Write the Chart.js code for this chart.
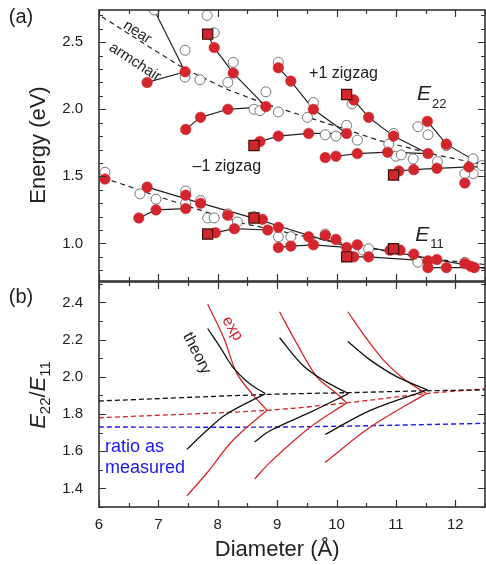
<!DOCTYPE html>
<html>
<head>
<meta charset="utf-8">
<script src="https://cdn.jsdelivr.net/npm/chart.js@4.4.0/dist/chart.umd.min.js"></script>
<style>
  html, body { margin: 0; padding: 0; background: #fff; }
  #wrap { position: relative; width: 486px; height: 565px; overflow: hidden; }
  #wrap canvas { position: absolute; left: 0; }
  #topCanvas { top: 0; }
  #botCanvas { top: 276px; }
</style>
</head>
<body>
<div id="wrap">
  <canvas id="topCanvas" width="486" height="290" style="width:486px;height:290px"></canvas>
  <canvas id="botCanvas" width="486" height="289" style="width:486px;height:289px"></canvas>
</div>
<script>
// ---- panel (a): transition energies vs diameter, [diameter (Å), energy (eV)] ----
const measuredE22 = [
  [6.81,2.20],[7.45,2.28],[7.94,2.46],[8.26,2.27],[8.81,2.02],[7.46,1.85],[7.71,1.94],
  [8.17,2.00],[8.71,1.76],[9.02,1.80],[9.02,2.31],[9.23,2.21],[9.61,2.00],[9.53,1.82],
  [10.17,1.82],[10.29,2.07],[10.54,1.94],[10.96,1.80],[9.81,1.64],[9.99,1.65],[10.35,1.67],
  [10.86,1.68],[11.53,1.91],[11.85,1.74],[11.54,1.67],[12.23,1.57],[11.05,1.54],[11.30,1.55],
  [11.69,1.56],[12.16,1.45]
];
const measuredE11 = [
  [6.10,1.48],[6.81,1.42],[6.67,1.19],[6.96,1.25],[7.46,1.26],[7.46,1.36],[7.71,1.30],
  [8.17,1.21],[8.28,1.11],[7.96,1.08],[8.75,1.18],[8.84,1.10],[9.02,1.12],[9.02,0.97],
  [9.23,0.98],[9.53,1.05],[9.61,0.99],[9.81,1.06],[9.99,1.03],[10.17,0.97],[10.35,0.99],
  [10.29,0.90],[10.54,0.90],[10.90,0.95],[11.07,0.95],[11.30,0.92],[11.54,0.87],[11.54,0.82],
  [11.69,0.88],[11.85,0.82],[12.16,0.85],[12.26,0.83],[12.32,0.82]
];
const zigzagE22 = [[7.83,2.56],[8.61,1.73],[10.17,2.11],[10.96,1.51]];
const zigzagE11 = [[7.83,1.07],[8.61,1.19],[10.17,0.90],[10.96,0.96]];
const calcE22 = [
  [6.93,2.74],[7.45,2.44],[7.45,2.24],[7.70,2.22],[7.82,2.70],[7.94,2.57],[8.26,2.35],
  [8.17,2.20],[8.81,2.13],[8.61,2.00],[8.71,1.99],[9.02,1.98],[9.02,2.35],[9.61,2.05],
  [9.51,1.94],[10.17,1.88],[10.26,2.04],[10.96,1.82],[10.88,1.74],[10.35,1.77],[9.81,1.81],
  [9.99,1.80],[11.37,1.87],[11.54,1.81],[11.85,1.73],[11.00,1.65],[11.09,1.66],[11.29,1.63],
  [11.70,1.61],[12.30,1.63],[12.30,1.52],[12.16,1.52],[12.45,1.58]
];
const calcE11 = [
  [6.10,1.53],[6.69,1.37],[6.96,1.33],[7.46,1.39],[7.46,1.30],[7.71,1.32],[7.83,1.19],
  [7.94,1.19],[8.17,1.22],[8.33,1.16],[8.61,1.20],[9.02,1.05],[9.23,1.05],[9.81,1.07],
  [10.45,0.95],[10.54,0.96],[11.37,0.86],[12.16,0.86]
];
const familyE22 = [
  [[6.93,2.74],[7.45,2.28]],
  [[6.81,2.20],[7.45,2.28]],
  [[7.83,2.56],[7.94,2.46],[8.26,2.27],[8.81,2.02]],
  [[7.46,1.85],[7.71,1.94],[8.17,2.00],[8.81,2.02]],
  [[9.02,2.31],[9.23,2.21],[9.61,2.00],[10.17,1.82]],
  [[8.61,1.73],[8.71,1.76],[9.02,1.80],[9.53,1.82],[10.17,1.82]],
  [[10.17,2.11],[10.29,2.07],[10.54,1.94],[10.96,1.80],[11.54,1.67]],
  [[9.81,1.64],[9.99,1.65],[10.35,1.67],[10.86,1.68],[11.54,1.67]],
  [[11.53,1.91],[11.85,1.74],[12.55,1.56]],
  [[10.96,1.51],[11.05,1.54],[11.30,1.55],[11.69,1.56],[12.23,1.57],[12.55,1.57]]
];
const familyE11 = [
  [[6.67,1.19],[6.96,1.25],[7.46,1.26]],
  [[6.81,1.42],[7.71,1.30],[8.75,1.17],[9.02,1.13],[9.53,1.06],[10.17,0.98],[10.67,0.96],[12.55,0.81]],
  [[7.83,1.07],[7.96,1.08],[8.28,1.11],[8.84,1.10]],
  [[9.02,0.97],[9.23,0.98],[9.61,0.99],[10.17,0.97]],
  [[10.17,0.90],[10.29,0.90],[10.54,0.90],[11.54,0.87]],
  [[11.54,0.82],[11.85,0.82],[12.55,0.82]]
];
const armchairE22 = [[6.05,2.69],[6.97,2.43],[7.45,2.30],[8.15,2.15],[8.80,2.04],[10.09,1.86],[10.70,1.77],[11.68,1.66],[12.55,1.58]];
const armchairE11 = [[6.07,1.49],[6.93,1.36],[7.69,1.25],[8.42,1.15],[9.50,1.05],[10.50,0.97],[11.50,0.89],[12.55,0.84]];

// ---- panel (b): E22/E11 ratio vs diameter ----
const theoryUpper = [
  [[7.83,2.26],[8.04,2.16],[8.26,2.05],[8.55,1.96],[8.80,1.91]],
  [[9.04,2.21],[9.44,2.06],[9.84,1.97],[10.20,1.91]],
  [[10.19,2.19],[10.57,2.09],[11.02,2.00],[11.53,1.93]]
];
const theoryLower = [
  [[8.80,1.91],[8.15,1.80],[7.81,1.71],[7.48,1.61]],
  [[10.20,1.91],[9.56,1.81],[8.88,1.71],[8.62,1.65]],
  [[11.53,1.93],[10.57,1.82],[9.81,1.69]]
];
const expUpper = [
  [[7.83,2.39],[8.10,2.21],[8.32,2.02],[8.60,1.90],[8.83,1.82]],
  [[9.04,2.35],[9.33,2.18],[9.67,2.00],[10.00,1.91],[10.17,1.86]],
  [[10.19,2.35],[10.45,2.23],[10.79,2.09],[11.13,1.99],[11.51,1.91]]
];
const expLower = [
  [[8.83,1.82],[8.26,1.66],[7.81,1.48],[7.48,1.36]],
  [[10.17,1.86],[9.56,1.73],[8.88,1.54],[8.62,1.45]],
  [[11.51,1.91],[10.57,1.73],[9.81,1.54]]
];
const theoryArmchair = [[6.0,1.87],[8.80,1.905],[10.20,1.915],[11.53,1.925],[12.5,1.93]];
const expArmchair = [[6.0,1.78],[8.83,1.82],[10.17,1.86],[11.51,1.91],[12.5,1.935]];
const measuredRatio = [[6.0,1.73],[9.0,1.73],[11.0,1.74],[12.5,1.75]];

const FONT = '"Liberation Sans", Arial, Helvetica, sans-serif';
const RED = '#d3262c';
const BLUE = '#1a1af0';
const INK = '#222';

const pts = arr => arr.map(([x, y]) => ({ x, y }));

function lineSet(arr, color, dash, width, tension) {
  return {
    data: pts(arr), showLine: true, borderColor: color, borderWidth: width || 1.2,
    borderDash: dash || [], pointRadius: 0, tension: tension || 0, fill: false
  };
}

function text(ctx, str, x, y, font, opts) {
  opts = opts || {};
  ctx.save();
  ctx.font = font;
  ctx.fillStyle = opts.color || INK;
  ctx.textAlign = opts.align || 'center';
  ctx.textBaseline = opts.baseline || 'middle';
  ctx.translate(x, y);
  if (opts.rot) ctx.rotate(opts.rot * Math.PI / 180);
  ctx.fillText(str, 0, 0);
  ctx.restore();
}

// inward tick marks on all four sides plus the frame
function drawFrame(chart, minorStep, majorEvery) {
  const { ctx, chartArea: a, scales: { x, y } } = chart;
  ctx.save();
  ctx.strokeStyle = '#333';
  ctx.lineWidth = 1.2;
  ctx.beginPath();
  for (let k = 12; k <= 25; k++) {
    const px = Math.round(x.getPixelForValue(k / 2)) + 0.5;
    const len = k % 2 === 0 ? 7 : 4;
    ctx.moveTo(px, a.bottom); ctx.lineTo(px, a.bottom - len);
    ctx.moveTo(px, a.top); ctx.lineTo(px, a.top + len);
  }
  const k0 = Math.ceil(y.min / minorStep - 1e-6);
  const k1 = Math.floor(y.max / minorStep + 1e-6);
  for (let k = k0; k <= k1; k++) {
    const py = Math.round(y.getPixelForValue(k * minorStep)) + 0.5;
    const len = k % majorEvery === 0 ? 7 : 4;
    ctx.moveTo(a.left, py); ctx.lineTo(a.left + len, py);
    ctx.moveTo(a.right, py); ctx.lineTo(a.right - len, py);
  }
  ctx.stroke();
  ctx.lineWidth = 1.6;
  ctx.strokeRect(a.left, a.top, a.right - a.left, a.bottom - a.top);
  ctx.restore();
}

function subLabel(ctx, x, y, main, sub, size, subSize, drop) {
  ctx.save();
  ctx.fillStyle = INK;
  ctx.textAlign = 'left';
  ctx.textBaseline = 'alphabetic';
  ctx.font = 'italic ' + size + 'px ' + FONT;
  ctx.fillText(main, x, y);
  const w = ctx.measureText(main).width;
  ctx.font = subSize + 'px ' + FONT;
  ctx.fillText(sub, x + w + 1, y + drop);
  ctx.restore();
}

// keep the axes from reserving room for overhanging tick labels
function fixBox(w, h) {
  return s => {
    if (w !== null) s.width = w;
    if (h !== null) s.height = h;
    s.paddingTop = 0; s.paddingBottom = 0; s.paddingLeft = 0; s.paddingRight = 0;
  };
}

const tickFont = { family: FONT, size: 15 };
const noGrid = { display: false, drawTicks: false };

// ---------- top chart (a) ----------
const topSets = [];
topSets.push({ data: pts(zigzagE22.concat(zigzagE11)), pointStyle: 'rect', pointRadius: 7.2,
  pointBackgroundColor: RED, pointBorderColor: '#3b1010', pointBorderWidth: 1.2, showLine: false });
topSets.push({ data: pts(measuredE22.concat(measuredE11)), pointRadius: 5.3,
  pointBackgroundColor: RED, pointBorderColor: RED, pointBorderWidth: 0.5, showLine: false });
topSets.push({ data: pts(calcE22.concat(calcE11)), pointRadius: 5,
  pointBackgroundColor: '#fff', pointBorderColor: '#555', pointBorderWidth: 0.8, showLine: false });
familyE22.concat(familyE11).forEach(f => topSets.push(lineSet(f, INK, null, 1.2)));
topSets.push(lineSet(armchairE22, INK, [5, 4], 1.2));
topSets.push(lineSet(armchairE11, INK, [5, 4], 1.2));

new Chart(document.getElementById('topCanvas'), {
  type: 'scatter',
  data: { datasets: topSets },
  options: {
    responsive: false, animation: false, events: [],
    layout: { autoPadding: false, padding: { top: 10, right: 1, left: 0, bottom: 0 } },
    plugins: { legend: { display: false }, tooltip: { enabled: false } },
    scales: {
      x: {
        type: 'linear', min: 6, max: 12.5,
        ticks: { display: false }, grid: noGrid, border: { display: false },
        afterFit: fixBox(null, 9)
      },
      y: {
        min: 0.72, max: 2.74,
        ticks: { stepSize: 0.5, includeBounds: false, padding: 16, color: INK, font: tickFont,
          callback: v => v.toFixed(1) },
        grid: noGrid, border: { display: false },
        afterFit: fixBox(99, null)
      }
    }
  },
  plugins: [{
    id: 'panelA',
    afterDraw(chart) {
      const { ctx, scales: { x, y } } = chart;
      drawFrame(chart, 0.1, 5);
      text(ctx, '(a)', 21, 17, '20px ' + FONT);
      text(ctx, 'Energy (eV)', 45, 145, '22px ' + FONT, { rot: -90, baseline: 'alphabetic' });
      text(ctx, 'near', x.getPixelForValue(6.646), y.getPixelForValue(2.574), '15px ' + FONT, { rot: 33 });
      text(ctx, 'armchair', x.getPixelForValue(6.607), y.getPixelForValue(2.351), '15px ' + FONT, { rot: 33 });
      text(ctx, '+1 zigzag', x.getPixelForValue(10.118), y.getPixelForValue(2.269), '16px ' + FONT);
      text(ctx, '\u20131 zigzag', x.getPixelForValue(8.152), y.getPixelForValue(1.570), '16px ' + FONT);
      subLabel(ctx, x.getPixelForValue(11.355), y.getPixelForValue(2.066), 'E', '22', 21, 13, 8);
      subLabel(ctx, x.getPixelForValue(11.327), y.getPixelForValue(1.017), 'E', '11', 21, 13, 7);
    }
  }]
});

// ---------- bottom chart (b) ----------
const botSets = [];
theoryUpper.concat(theoryLower).forEach(c => botSets.push(lineSet(c, '#111', null, 1.3, 0.35)));
expUpper.concat(expLower).forEach(c => botSets.push(lineSet(c, RED, null, 1.3, 0.35)));
botSets.push(lineSet(theoryArmchair, '#111', [5, 3], 1.3, 0.3));
botSets.push(lineSet(expArmchair, RED, [5, 3], 1.3, 0.3));
botSets.push(lineSet(measuredRatio, BLUE, [5, 3], 1.4, 0.3));

new Chart(document.getElementById('botCanvas'), {
  type: 'scatter',
  data: { datasets: botSets },
  options: {
    responsive: false, animation: false, events: [],
    layout: { autoPadding: false, padding: { top: 6, right: 1, left: 0, bottom: 0 } },
    plugins: { legend: { display: false }, tooltip: { enabled: false } },
    scales: {
      x: {
        type: 'linear', min: 6, max: 12.5,
        ticks: { stepSize: 1, includeBounds: false, padding: 9, color: INK, font: tickFont, maxRotation: 0 },
        grid: noGrid, border: { display: false },
        afterFit: fixBox(null, 58)
      },
      y: {
        min: 1.30, max: 2.51,
        ticks: { stepSize: 0.2, includeBounds: false, padding: 16, color: INK, font: tickFont,
          callback: v => v.toFixed(1) },
        grid: noGrid, border: { display: false },
        afterFit: fixBox(99, null)
      }
    }
  },
  plugins: [{
    id: 'panelB',
    afterDraw(chart) {
      const { ctx, scales: { x, y } } = chart;
      drawFrame(chart, 0.1, 2);
      text(ctx, '(b)', 21, 21, '20px ' + FONT);
      text(ctx, 'Diameter (\u00c5)', x.getPixelForValue(9), 274, '22px ' + FONT);
      // rotated E22/E11 axis title
      ctx.save();
      ctx.translate(45, 119);
      ctx.rotate(-Math.PI / 2);
      ctx.fillStyle = INK;
      ctx.textBaseline = 'alphabetic';
      ctx.textAlign = 'left';
      const parts = [
        ['italic 22px ' + FONT, 'E', 0], ['15px ' + FONT, '22', 5],
        ['22px ' + FONT, '/', 0], ['italic 22px ' + FONT, 'E', 0], ['15px ' + FONT, '11', 5]
      ];
      let total = 0;
      parts.forEach(p => { ctx.font = p[0]; total += ctx.measureText(p[1]).width; });
      let cx = -total / 2;
      parts.forEach(p => { ctx.font = p[0]; ctx.fillText(p[1], cx, p[2]); cx += ctx.measureText(p[1]).width; });
      ctx.restore();
      text(ctx, 'theory', x.getPixelForValue(7.647), y.getPixelForValue(2.126), '16px ' + FONT, { rot: 63 });
      text(ctx, 'exp', x.getPixelForValue(8.247), y.getPixelForValue(2.260), '16px ' + FONT, { rot: 58, color: RED });
      text(ctx, 'ratio as', x.getPixelForValue(6.10), y.getPixelForValue(1.595), '18px ' + FONT,
        { align: 'left', baseline: 'alphabetic', color: BLUE });
      text(ctx, 'measured', x.getPixelForValue(6.10), y.getPixelForValue(1.482), '18px ' + FONT,
        { align: 'left', baseline: 'alphabetic', color: BLUE });
    }
  }]
});
</script>
</body>
</html>
